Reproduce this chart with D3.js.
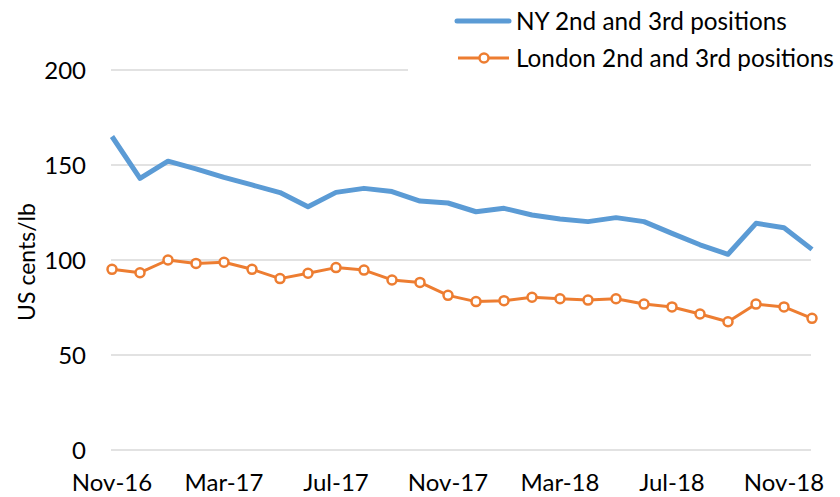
<!DOCTYPE html>
<html><head><meta charset="utf-8">
<script src="https://cdn.jsdelivr.net/npm/d3@7"></script>
<style>body{margin:0;background:#fff}svg{display:block}text{font-family:Lato,"Open Sans",sans-serif;fill:#000}</style>
</head><body><svg id="c" width="840" height="497"></svg>
<script>
const months = ["Nov-16","Dec-16","Jan-17","Feb-17","Mar-17","Apr-17","May-17","Jun-17","Jul-17","Aug-17","Sep-17","Oct-17","Nov-17","Dec-17","Jan-18","Feb-18","Mar-18","Apr-18","May-18","Jun-18","Jul-18","Aug-18","Sep-18","Oct-18","Nov-18","Dec-18"];
const nyValues = [165,143,152,148,143.5,139.5,135.5,128,135.6,137.7,136,131,130,125.4,127.2,123.7,121.6,120.2,122.3,120.2,114,108,103,119.3,117,105.6];
const londonValues = [95.1,93.3,100,98.2,98.8,95.1,90.2,93,96,94.7,89.5,88.2,81.4,78.1,78.6,80.4,79.6,78.9,79.6,76.8,75.3,71.6,67.5,76.8,75.3,69.3];
const xTickLabels = ["Nov-16","Mar-17","Jul-17","Nov-17","Mar-18","Jul-18","Nov-18"];
const yTicks = [0,50,100,150,200];
const seriesNames = ["NY 2nd and 3rd positions","London 2nd and 3rd positions"];

const svg = d3.select("#c");
const x = d3.scalePoint().domain(months).range([112,812]);
const y = d3.scaleLinear().domain([0,200]).range([450,70]);

// gridlines
svg.append("g").selectAll("line").data(yTicks).join("line")
  .attr("x1",111).attr("x2",811).attr("y1",d=>y(d)).attr("y2",d=>y(d))
  .attr("stroke","#d9d9d9").attr("stroke-width",1.5);

// y labels
svg.append("g").selectAll("text").data(yTicks).join("text")
  .attr("x",86).attr("y",d=>y(d)).attr("dy","0.36em").attr("text-anchor","end")
  .attr("font-size",24).text(d=>d);

// x labels
svg.append("g").selectAll("text").data(xTickLabels).join("text")
  .attr("x",d=>x(d)).attr("y",482).attr("dy","0.36em").attr("text-anchor","middle")
  .attr("font-size",24).text(d=>d);

// y title
svg.append("text").attr("transform","translate(27,262) rotate(-90)")
  .attr("text-anchor","middle").attr("dy","0.36em").attr("font-size",23).text("US cents/lb");

const line = d3.line().x((d,i)=>x(months[i])).y(d=>y(d));
svg.append("path").datum(nyValues).attr("d",line).attr("fill","none")
  .attr("stroke","#5b9bd5").attr("stroke-width",5).attr("stroke-linejoin","round");
svg.append("path").datum(londonValues).attr("d",line).attr("fill","none")
  .attr("stroke","#ed7d31").attr("stroke-width",3).attr("stroke-linejoin","round");
svg.append("g").selectAll("circle").data(londonValues).join("circle")
  .attr("cx",(d,i)=>x(months[i])).attr("cy",d=>y(d)).attr("r",4.5)
  .attr("fill","#fff").attr("stroke","#ed7d31").attr("stroke-width",2.5);

// legend
const lg = svg.append("g");
lg.append("rect").attr("x",408).attr("y",0).attr("width",432).attr("height",80).attr("fill","#fff");
lg.append("line").attr("x1",457).attr("x2",509).attr("y1",21).attr("y2",21)
  .attr("stroke","#5b9bd5").attr("stroke-width",5).attr("stroke-linecap","round");
lg.append("line").attr("x1",458).attr("x2",509).attr("y1",58).attr("y2",58)
  .attr("stroke","#ed7d31").attr("stroke-width",3);
lg.append("circle").attr("cx",484).attr("cy",58).attr("r",4.5)
  .attr("fill","#fff").attr("stroke","#ed7d31").attr("stroke-width",2.5);
lg.selectAll("text.l").data(seriesNames).join("text").attr("class","l")
  .attr("x",516).attr("y",(d,i)=>i?58:21).attr("dy","0.36em").attr("font-size",24.3).text(d=>d);
</script></body></html>
